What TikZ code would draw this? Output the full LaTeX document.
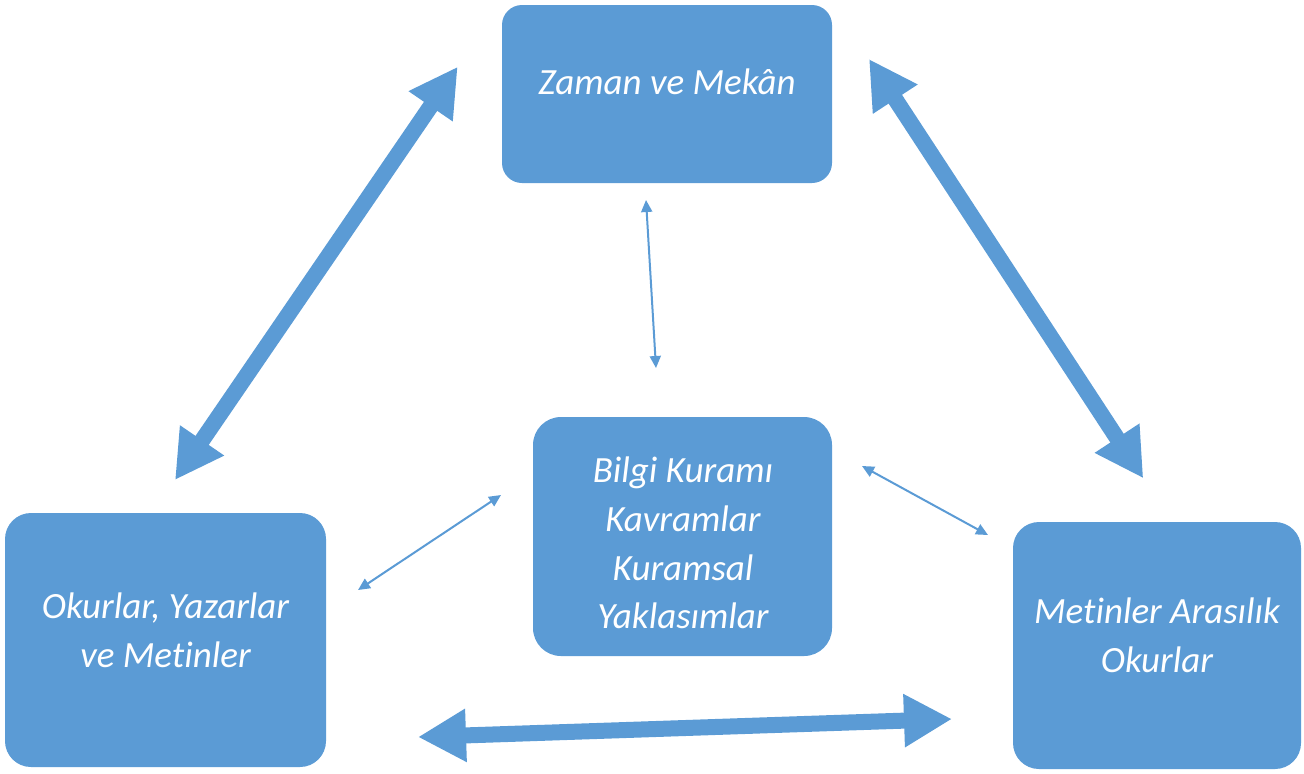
\documentclass[tikz,border=0pt]{standalone}
\usepackage{fontspec}
\setmainfont{Carlito}[Ligatures=NoCommon]
\usetikzlibrary{arrows.meta}
\definecolor{boxblue}{HTML}{5B9BD5}
\begin{document}
\begin{tikzpicture}[x=0.5pt,y=-0.5pt,
  box/.style={fill=boxblue,draw=none,inner sep=0pt},
  boxtext/.style={text=white,align=center,inner sep=0pt,
    font=\fontsize{18.5}{24.4}\selectfont\itshape},
  bigarrow/.style={draw=boxblue,line width=8pt,
    {Triangle[length=24pt,width=25pt]}-{Triangle[length=24pt,width=25pt]}},
  thinarrow/.style={draw=boxblue,line width=1pt,
    {Triangle[length=6pt,width=5.5pt]}-{Triangle[length=6pt,width=5.5pt]}}]
\useasboundingbox (0,0) rectangle (1304,773);
\node[box,minimum width=165pt,minimum height=89pt,rounded corners=10pt] (top) at (667,94) {};
\node[box,minimum width=149.5pt,minimum height=119.5pt,rounded corners=14pt] (mid) at (682.5,536.5) {};
\node[box,minimum width=160.5pt,minimum height=127pt,rounded corners=13pt] (left) at (165.5,640) {};
\node[box,minimum width=144pt,minimum height=123.5pt,rounded corners=13pt] (right) at (1157,645.5) {};
\node[boxtext] (toptext) at (667,82) {Zaman ve Mekân};
\node[boxtext] (midtext) at (683,543) {Bilgi Kuramı\\Kavramlar\\Kuramsal\\Yaklasımlar};
\node[boxtext] (lefttext) at (165.5,630) {Okurlar, Yazarlar\\ve Metinler};
\node[boxtext] (righttext) at (1157,635) {Metinler Arasılık\\Okurlar};
% arrow end points
\coordinate (a1) at (457.7,66.7);
\coordinate (a2) at (175,480);
\coordinate (b1) at (869,59);
\coordinate (b2) at (1143.3,478.3);
\coordinate (c1) at (418,737);
\coordinate (c2) at (952,719);
\coordinate (d1) at (646,200);
\coordinate (d2) at (656,368);
\coordinate (e1) at (501,495);
\coordinate (e2) at (358,590);
\coordinate (f1) at (862,466);
\coordinate (f2) at (988,535);
\draw[bigarrow] (a2) -- (a1);
\draw[bigarrow] (b1) -- (b2);
\draw[bigarrow] (c1) -- (c2);
\draw[thinarrow] (d1) -- (d2);
\draw[thinarrow] (e2) -- (e1);
\draw[thinarrow] (f1) -- (f2);
\end{tikzpicture}
\end{document}
